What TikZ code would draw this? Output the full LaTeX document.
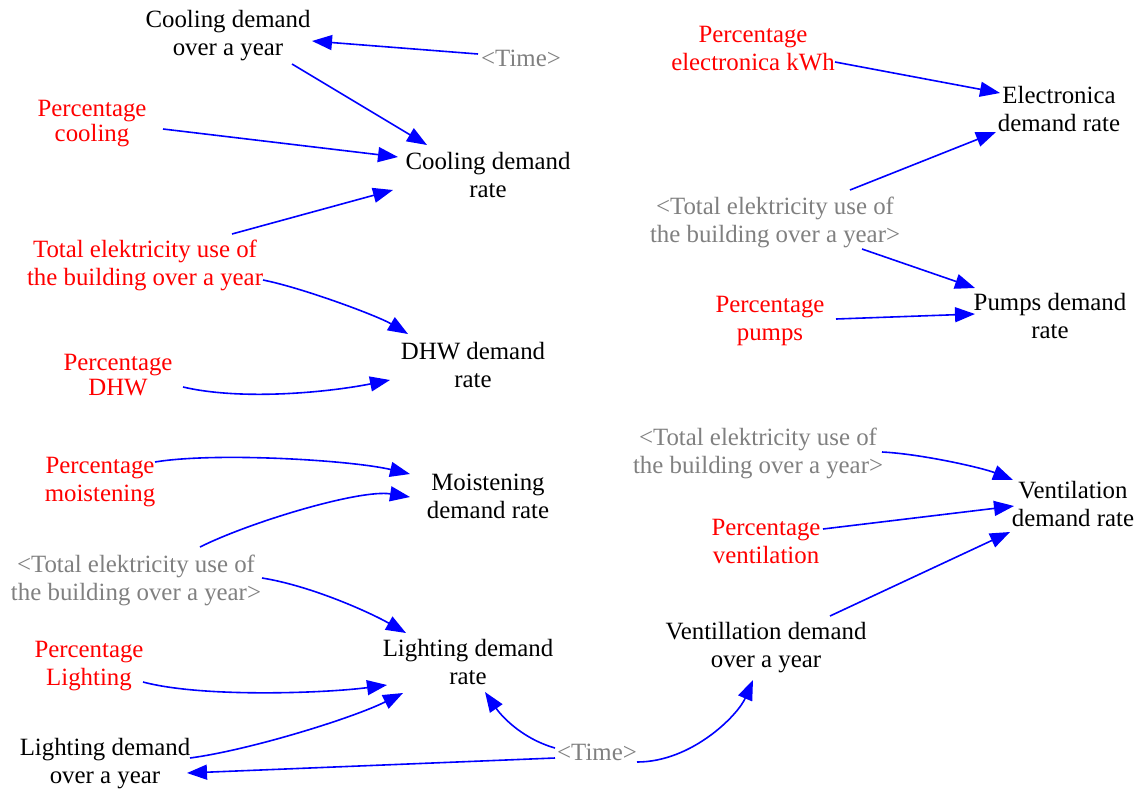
\documentclass[tikz,border=0pt]{standalone}
\usepackage{fontspec}
\setmainfont{Liberation Serif}
\usetikzlibrary{arrows.meta,calc}
\definecolor{linkblue}{RGB}{0,0,255}
\definecolor{inred}{RGB}{255,0,0}
\definecolor{shadowgray}{RGB}{128,128,128}
\begin{document}
\begin{tikzpicture}[x=1pt,y=-1pt,
  var/.style={align=center,inner sep=0pt,font=\fontsize{24.85}{28}\selectfont},
  rate/.style={var,text=black},
  param/.style={var,text=inred},
  shadow/.style={var,text=shadowgray},
  link/.style={draw=linkblue,line width=1.6pt,-{Triangle[length=20pt,width=15pt]}}]
\useasboundingbox (0,0) rectangle (1137,792);

% variables
\node[rate]   (cdy)   at (228,36)   {Cooling demand\\over a year};
\node[shadow] (ttop)  at (521,58)   {<Time>};
\node[param]  (pcool) at (92,124)   {Percentage\\[-3pt]cooling};
\node[rate]   (cdr)   at (488,175)  {Cooling demand\\rate};
\node[param]  (totR)  at (145,265)  {Total elektricity use of\\the building over a year};
\node[rate]   (dhw)   at (473,365)  {DHW demand\\rate};
\node[param]  (pdhw)  at (118,375)  {Percentage\\[-3pt]DHW};
\node[param]  (pmoist) at (100,482) {Percentage\\moistening};
\node[rate]   (mdr)   at (488,496)  {Moistening\\demand rate};
\node[shadow] (totL)  at (136,580)  {<Total elektricity use of\\the building over a year>};
\node[rate]   (ldr)   at (468,662)  {Lighting demand\\rate};
\node[param]  (plight) at (89,666)  {Percentage\\Lighting};
\node[rate]   (ldy)   at (105,764)  {Lighting demand\\over a year};
\node[shadow] (tbot)  at (597,752)  {<Time>};
\node[rate]   (vdy)   at (766,648)  {Ventillation demand\\over a year};
\node[param]  (pvent) at (766,541)  {Percentage\\ventilation};
\node[shadow] (totM)  at (758,453)  {<Total elektricity use of\\the building over a year>};
\node[rate]   (vdr)   at (1073,504) {Ventilation\\demand rate};
\node[param]  (pel)   at (753,49)   {Percentage\\electronica kWh};
\node[rate]   (edr)   at (1059,109) {Electronica\\demand rate};
\node[shadow] (totT)  at (775,222)  {<Total elektricity use of\\the building over a year>};
\node[rate]   (pdr)   at (1050,316) {Pumps demand\\rate};
\node[param]  (ppump) at (770,321)  {Percentage\\pumps};

% cooling
\draw[link] ($(ttop)+(-43,-4)$) -- ($(cdy)+(84,5)$);
\draw[link] ($(cdy)+(64,28)$) -- ($(cdr)+(-61,-30)$);
\draw[link] ($(pcool)+(71,5)$) -- ($(cdr)+(-90,-18)$);
\draw[link] ($(totR)+(87,-31)$) -- ($(cdr)+(-95,15)$);

% domestic hot water
\draw[link] ($(totR)+(118,15)$) .. controls +(40,8) and +(-30,-18) .. ($(dhw)+(-65,-31)$);
\draw[link] ($(pdhw)+(65,12)$) .. controls +(60,14) and +(-60,12) .. ($(dhw)+(-83,15)$);

% moistening
\draw[link] ($(pmoist)+(55,-20)$) .. controls +(60,-10) and +(-60,-14) .. ($(mdr)+(-78,-22)$);
\draw[link] ($(totL)+(64,-33)$) .. controls +(50,-25) and +(-50,-8) .. ($(mdr)+(-78,1)$);

% lighting
\draw[link] ($(totL)+(126,-2)$) .. controls +(50,8) and +(-35,-20) .. ($(ldr)+(-62,-29)$);
\draw[link] ($(plight)+(54,16)$) .. controls +(60,16) and +(-60,8) .. ($(ldr)+(-81,23)$);
\draw[link] ($(ldy)+(85,-6)$) .. controls +(60,-8) and +(-50,25) .. ($(ldr)+(-65,31)$);
\draw[link] ($(tbot)+(-42,-4)$) .. controls +(-35,-10) and +(15,22) .. ($(ldr)+(17,30)$);
\draw[link] ($(tbot)+(-42,6)$) -- ($(ldy)+(82,9)$);

% ventilation
\draw[link] ($(tbot)+(40,10)$) .. controls +(55,0) and +(-15,35) .. ($(vdy)+(-13,32)$);
\draw[link] ($(vdy)+(64,-32)$) -- ($(vdr)+(-63,28)$);
\draw[link] ($(pvent)+(57,-12)$) -- ($(vdr)+(-59,2)$);
\draw[link] ($(totM)+(124,-1)$) .. controls +(40,2) and +(-30,-12) .. ($(vdr)+(-60,-24)$);

% electronica and pumps
\draw[link] ($(pel)+(82,13)$) -- ($(edr)+(-59,-16)$);
\draw[link] ($(totT)+(75,-32)$) -- ($(edr)+(-63,23)$);
\draw[link] ($(totT)+(87,27)$) -- ($(pdr)+(-75,-28)$);
\draw[link] ($(ppump)+(66,-2)$) -- ($(pdr)+(-75,-2)$);
\end{tikzpicture}
\end{document}
